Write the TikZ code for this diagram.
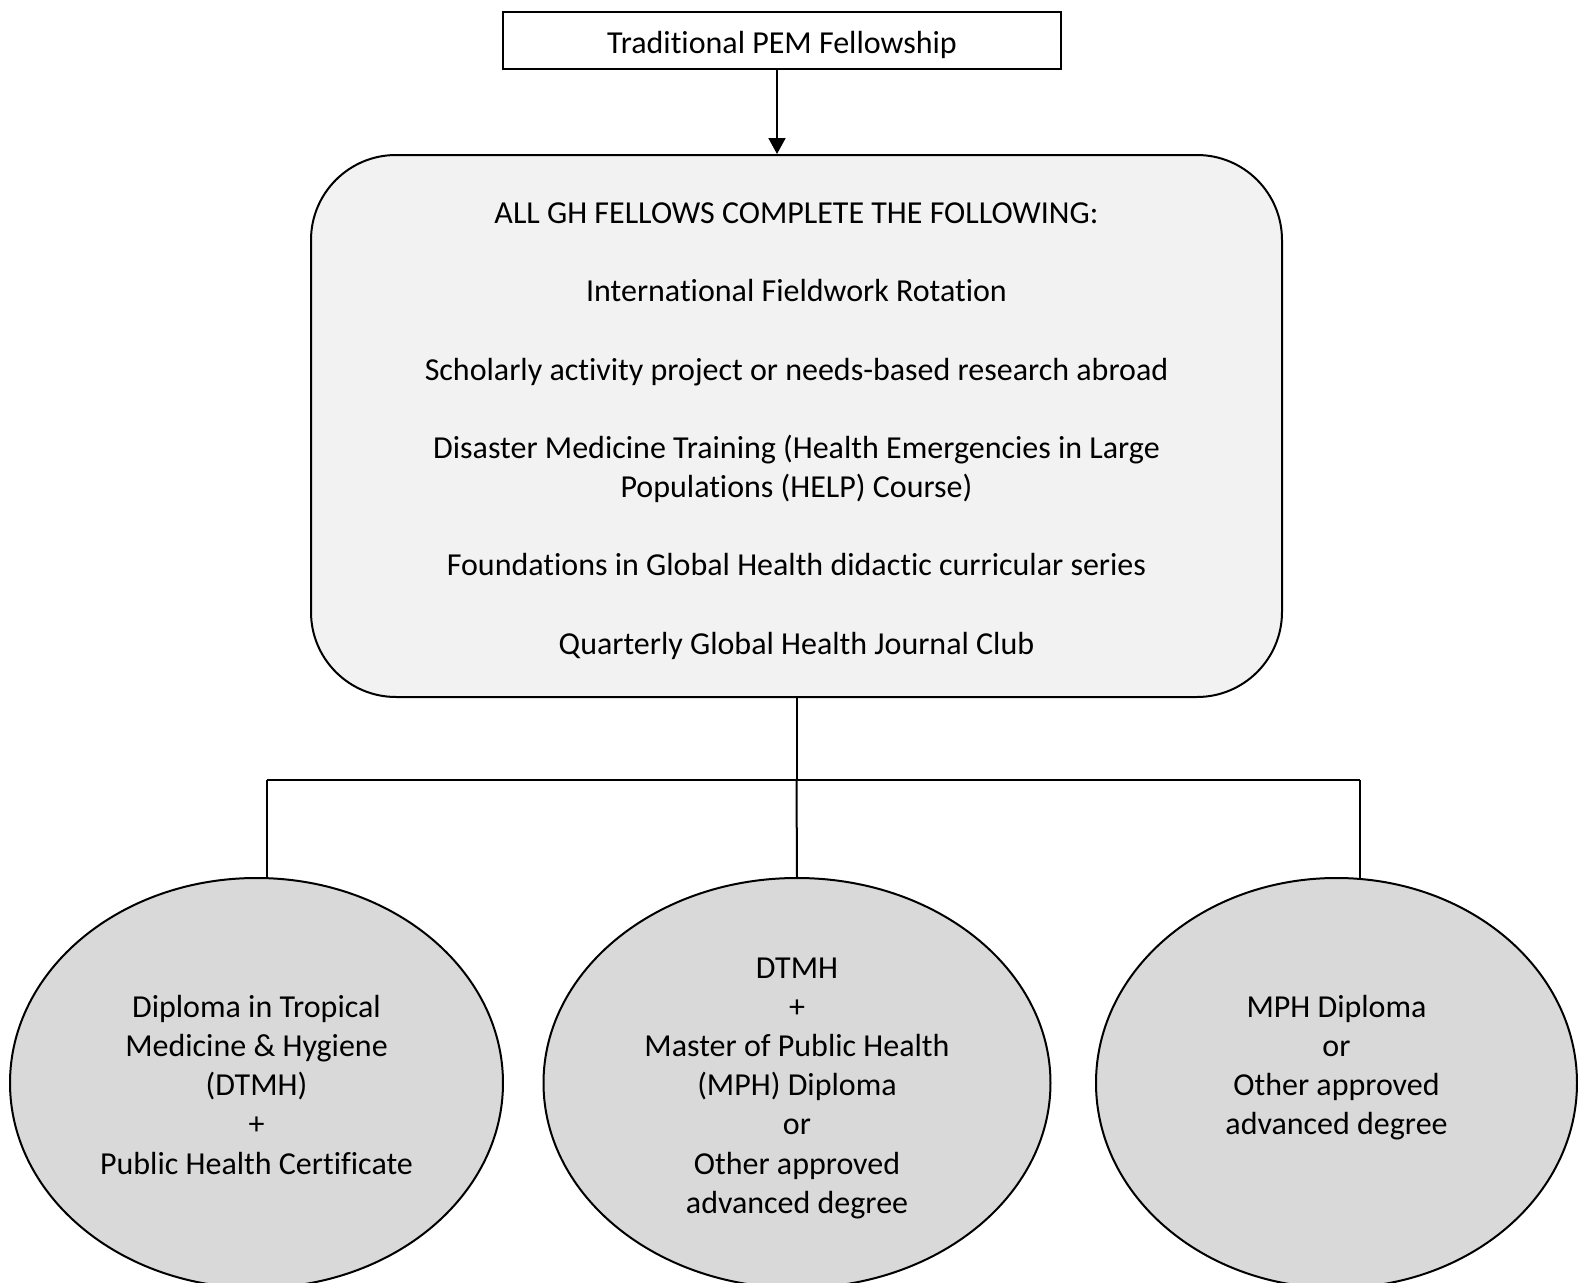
\documentclass[tikz,border=0pt]{standalone}
\usepackage{fontspec}
\setmainfont{Carlito}[Ligatures={NoCommon}]
\usetikzlibrary{arrows.meta,shapes.geometric}
\def\pxu{0.35pt}
\newcommand{\topstrut}{\rule{0pt}{13.1pt}}
\definecolor{boxfill}{HTML}{F2F2F2}
\definecolor{ellfill}{HTML}{D9D9D9}
\tikzset{
  base/.style={font=\fontsize{11.2}{13.7}\selectfont, align=center, inner sep=0pt, line width=0.7pt},
  topbox/.style={base, draw, rectangle, minimum width=558*\pxu, minimum height=57*\pxu},
  ghbox/.style={base, draw, fill=boxfill, rectangle, rounded corners=85*\pxu, minimum width=971*\pxu, minimum height=542*\pxu},
  degree/.style={base, draw, fill=ellfill, ellipse},
  conn/.style={line width=0.7pt},
}
\begin{document}
\begin{tikzpicture}[x=\pxu, y=-\pxu]
\clip (0,0) rectangle (1578,1283);
\fill[white] (0,0) rectangle (1578,1283);

\node[topbox] (top) at (782,40.7) {\topstrut Traditional PEM Fellowship\strut};

\node[ghbox] (gh) at (796.5,426) {\topstrut ALL GH FELLOWS COMPLETE THE FOLLOWING:\\[13.7pt]
International Fieldwork Rotation\\[13.7pt]
Scholarly activity project or needs-based research abroad\\[13.7pt]
Disaster Medicine Training (Health Emergencies in Large\\
Populations (HELP) Course)\\[13.7pt]
Foundations in Global Health didactic curricular series\\[13.7pt]
Quarterly Global Health Journal Club\strut};

\node[degree, minimum width=493*\pxu, minimum height=410*\pxu] (e1) at (256.5,1083)
  {\topstrut Diploma in Tropical\\Medicine \& Hygiene\\(DTMH)\\+\\Public Health Certificate\strut};
\node[degree, minimum width=507*\pxu, minimum height=410*\pxu] (e2) at (797,1083)
  {\topstrut DTMH\\+\\Master of Public Health\\(MPH) Diploma\\or\\Other approved\\advanced degree\strut};
\node[degree, minimum width=481*\pxu, minimum height=410*\pxu] (e3) at (1336.5,1083)
  {\topstrut MPH Diploma\\or\\Other approved\\advanced degree\\\strut};

\coordinate (jL) at (267,780);
\coordinate (jM) at (gh.south |- jL);
\coordinate (jR) at (1360,780);

\draw[conn, -{Triangle[length=16*\pxu, width=17*\pxu]}]
  ([xshift=-5*\pxu]top.south) -- ([xshift=-5*\pxu]top.south |- gh.north);
\draw[conn] (gh.south) -- (jM);
\draw[conn] (jL) -- (jR);
\draw[conn] (jL) -- (jL |- e1.north);
\draw[conn] (jM) -- (e2.north);
\draw[conn] (jR) -- ([yshift=-1*\pxu]jR |- e3.north);
\end{tikzpicture}
\end{document}
